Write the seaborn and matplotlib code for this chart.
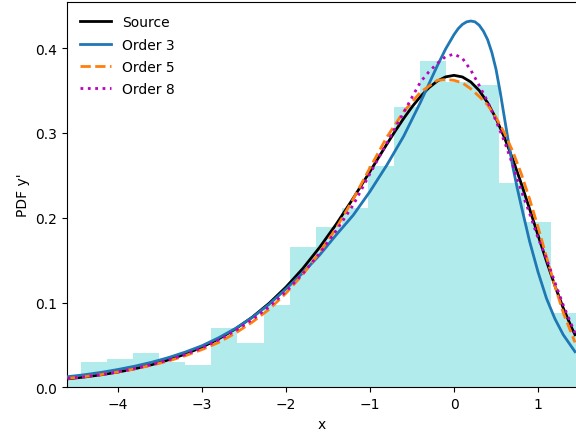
import numpy as np
import pandas as pd
import matplotlib
matplotlib.use("Agg")
import matplotlib.pyplot as plt
import seaborn as sns

# Histogram (bin edges and bar heights)
bin_edges = [-4.755, -4.444, -4.133, -3.822, -3.511, -3.200, -2.889, -2.578, -2.267,
             -1.956, -1.645, -1.334, -1.023, -0.713, -0.402, -0.091, 0.220, 0.531,
             0.842, 1.153, 1.464]
bin_heights = [0.010, 0.030, 0.0334, 0.040, 0.030, 0.026, 0.0696, 0.0526, 0.097,
               0.165, 0.189, 0.211, 0.261, 0.331, 0.385, 0.360, 0.356, 0.241,
               0.195, 0.088]

# Curves
x_src = [-4.6, -4.4, -4.2, -4.0, -3.8, -3.6, -3.4, -3.2, -3.0, -2.8, -2.6, -2.4, -2.2,
         -2.0, -1.8, -1.6, -1.4, -1.2, -1.0, -0.9, -0.8, -0.7, -0.6, -0.5, -0.4, -0.3,
         -0.2, -0.1, 0.0, 0.1, 0.2, 0.3, 0.4, 0.5, 0.6, 0.7, 0.8, 0.9, 1.0, 1.1, 1.2,
         1.3, 1.4, 1.44]
y_src = [0.00995, 0.01213, 0.01477, 0.01798, 0.02189, 0.02660, 0.03228, 0.03913,
         0.04736, 0.05723, 0.06896, 0.08283, 0.09917, 0.1182, 0.1401, 0.1650, 0.1927,
         0.2229, 0.2546, 0.2707, 0.2867, 0.3022, 0.3170, 0.3307, 0.3429, 0.3532, 0.3611,
         0.3661, 0.3679, 0.3660, 0.3601, 0.3500, 0.3356, 0.3170, 0.2946, 0.2688, 0.2404,
         0.2102, 0.1794, 0.1489, 0.1200, 0.0935, 0.0703, 0.0620]

x_o3 = [-4.6, -4.4, -4.2, -4.0, -3.8, -3.6, -3.4, -3.2, -3.0, -2.8, -2.6, -2.4, -2.2,
        -2.0, -1.8, -1.6, -1.4, -1.2, -1.0, -0.8, -0.6, -0.4, -0.2, -0.1, 0.0, 0.05,
        0.1, 0.15, 0.2, 0.25, 0.3, 0.35, 0.4, 0.45, 0.5, 0.55, 0.6, 0.65, 0.7, 0.75,
        0.8, 0.9, 1.0, 1.1, 1.2, 1.3, 1.44]
y_o3 = [0.0125, 0.0148, 0.0176, 0.0210, 0.0249, 0.0295, 0.0350, 0.0415, 0.0490,
        0.0585, 0.0695, 0.0825, 0.0980, 0.116, 0.135, 0.156, 0.180, 0.203, 0.231,
        0.262, 0.296, 0.336, 0.379, 0.399, 0.416, 0.423, 0.428, 0.431, 0.432, 0.431,
        0.427, 0.420, 0.410, 0.395, 0.375, 0.348, 0.318, 0.288, 0.260, 0.236, 0.214,
        0.172, 0.136, 0.105, 0.081, 0.062, 0.042]

x_o5 = [-4.6, -4.4, -4.2, -4.0, -3.8, -3.6, -3.4, -3.2, -3.0, -2.8, -2.6, -2.4, -2.2,
        -2.0, -1.8, -1.6, -1.4, -1.2, -1.0, -0.8, -0.6, -0.4, -0.2, -0.1, 0.0, 0.1,
        0.2, 0.3, 0.4, 0.5, 0.6, 0.7, 0.8, 0.9, 1.0, 1.1, 1.2, 1.3, 1.44]
y_o5 = [0.0105, 0.0125, 0.0150, 0.0180, 0.0217, 0.0260, 0.0310, 0.0372, 0.0445,
        0.0530, 0.0640, 0.0770, 0.0920, 0.111, 0.133, 0.159, 0.188, 0.222, 0.259,
        0.295, 0.325, 0.348, 0.362, 0.363, 0.362, 0.359, 0.352, 0.343, 0.333, 0.318,
        0.300, 0.278, 0.252, 0.222, 0.189, 0.154, 0.120, 0.088, 0.053]

x_o8 = [-4.6, -4.4, -4.2, -4.0, -3.8, -3.6, -3.4, -3.2, -3.0, -2.8, -2.6, -2.4, -2.2,
        -2.0, -1.8, -1.6, -1.4, -1.2, -1.0, -0.8, -0.6, -0.4, -0.3, -0.2, -0.1, 0.0,
        0.1, 0.2, 0.3, 0.4, 0.5, 0.6, 0.7, 0.8, 0.9, 1.0, 1.1, 1.2, 1.3, 1.44]
y_o8 = [0.0105, 0.0125, 0.0150, 0.0182, 0.0222, 0.0268, 0.0322, 0.0387, 0.0465,
        0.0560, 0.0670, 0.0800, 0.0950, 0.113, 0.134, 0.158, 0.185, 0.215, 0.252,
        0.288, 0.324, 0.360, 0.372, 0.382, 0.390, 0.393, 0.388, 0.374, 0.356, 0.337,
        0.314, 0.290, 0.262, 0.232, 0.205, 0.176, 0.152, 0.124, 0.097, 0.064]

series_labels = ["Source", "Order 3", "Order 5", "Order 8"]

fig = plt.figure(figsize=(5.76, 4.35), dpi=100)
ax = fig.add_axes([67 / 576, 46.7 / 435, 509 / 576, 385.3 / 435])

centers = [(bin_edges[i] + bin_edges[i + 1]) / 2 for i in range(len(bin_heights))]
sns.histplot(x=centers, weights=bin_heights, bins=bin_edges, stat="count",
             color="#B2EBEB", alpha=1.0, linewidth=0, ax=ax, zorder=1)

sns.lineplot(x=x_src, y=y_src, color="black", lw=2, label=series_labels[0], ax=ax,
             sort=False, zorder=3)
sns.lineplot(x=x_o3, y=y_o3, color="#1f77b4", lw=2, label=series_labels[1], ax=ax,
             sort=False, zorder=3)
sns.lineplot(x=x_o5, y=y_o5, color="#ff7f0e", lw=2, ls="--", label=series_labels[2],
             ax=ax, sort=False, zorder=4)
sns.lineplot(x=x_o8, y=y_o8, color="m", lw=2, ls=":", label=series_labels[3], ax=ax,
             sort=False, zorder=5)

ax.set_xlim(-4.607, 1.452)
ax.set_ylim(0, 0.4544)
ax.set_xticks([-4, -3, -2, -1, 0, 1])
ax.set_yticks([0.0, 0.1, 0.2, 0.3, 0.4])
ax.set_xlabel("x")
ax.set_ylabel("PDF y'")
ax.spines["right"].set_visible(False)
ax.legend(loc="upper left", frameon=False, labelspacing=0.6, handlelength=2.2,
          borderaxespad=0.55)

fig.savefig("out.png", dpi=100)
